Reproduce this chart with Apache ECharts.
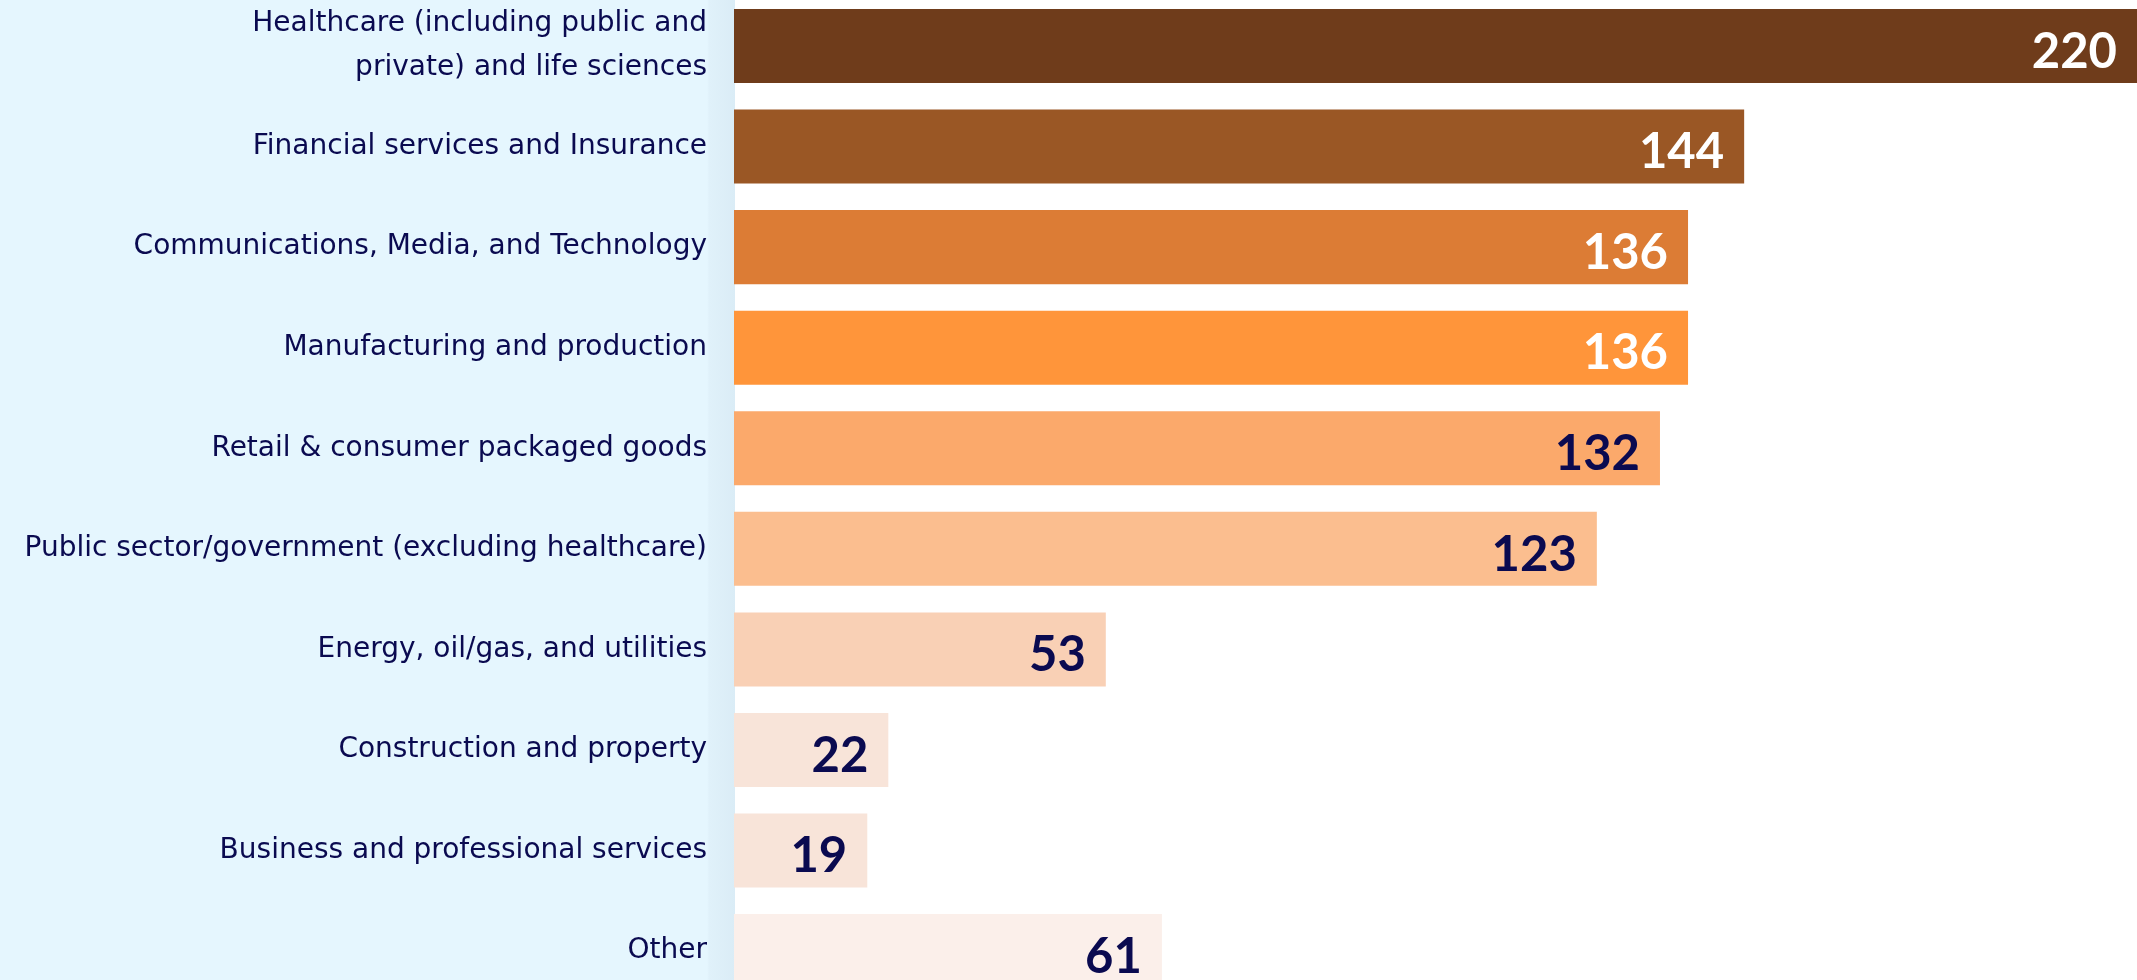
<!DOCTYPE html>
<html>
<head>
<meta charset="utf-8">
<title>Industries</title>
<script src="https://cdn.jsdelivr.net/npm/echarts@6/dist/echarts.min.js"></script>
<style>
  html, body { margin: 0; padding: 0; background: #ffffff; }
  #chart { width: 2137px; height: 980px; }
</style>
</head>
<body>
<div id="chart"></div>
<script>
// Industry categories, top to bottom
const categories = [
  'Healthcare (including public and\nprivate) and life sciences',
  'Financial services and Insurance',
  'Communications, Media, and Technology',
  'Manufacturing and production',
  'Retail & consumer packaged goods',
  'Public sector/government (excluding healthcare)',
  'Energy, oil/gas, and utilities',
  'Construction and property',
  'Business and professional services',
  'Other'
];

// Number of respondents per industry
const counts = [220, 144, 136, 136, 132, 123, 53, 22, 19, 61];

// Bar fills, dark brown fading to pale peach
const barColors = [
  '#6F3C1B', '#9A5725', '#DC7C35', '#FF953A', '#FBA96B',
  '#FBBE8F', '#F9D0B5', '#F8E4D9', '#F8E4D9', '#FBEFEA'
];
// Value label colours (white on the dark bars, navy on the light ones)
const labelColors = [
  '#FFFFFF', '#FFFFFF', '#FFFFFF', '#FFFFFF', '#0A0A50',
  '#0A0A50', '#0A0A50', '#0A0A50', '#0A0A50', '#0A0A50'
];

const NAVY = '#0A0A50';
const chart = echarts.init(document.getElementById('chart'), null, { renderer: 'canvas' });

const option = {
  animation: false,
  backgroundColor: '#FFFFFF',
  graphic: [
    {
      type: 'rect',
      z: -10,
      silent: true,
      shape: { x: 0, y: 0, width: 735, height: 980 },
      style: {
        fill: new echarts.graphic.LinearGradient(0, 0, 1, 0, [
          { offset: 0, color: '#E5F6FE' },
          { offset: 0.962, color: '#E5F6FE' },
          { offset: 0.965, color: '#E0F1FA' },
          { offset: 1, color: '#DAECF6' }
        ])
      }
    }
  ],
  grid: {
    left: 734,
    right: 0,
    top: -4.3,
    height: 1005.7,
    outerBoundsMode: 'none',
    containLabel: false
  },
  xAxis: {
    type: 'value',
    min: 0,
    max: 200,
    show: false
  },
  yAxis: {
    type: 'category',
    inverse: true,
    data: categories,
    axisLine: { show: false },
    axisTick: { show: false },
    splitLine: { show: false },
    axisLabel: {
      margin: 27,
      color: NAVY,
      fontFamily: '"DejaVu Sans", "Noto Sans", sans-serif',
      fontSize: 28,
      lineHeight: 44,
      align: 'right'
    }
  },
  series: [
    {
      type: 'bar',
      clip: true,
      barCategoryGap: '26.4%',
      data: counts.map((v, i) => ({
        value: v,
        itemStyle: { color: barColors[i] },
        label: { color: labelColors[i] }
      })),
      label: {
        show: true,
        position: 'insideRight',
        distance: 20,
        fontFamily: 'Lato, "Noto Sans", sans-serif',
        fontWeight: 'bold',
        fontSize: 49,
        offset: [0, 6]
      }
    }
  ]
};

chart.setOption(option);
</script>
</body>
</html>
